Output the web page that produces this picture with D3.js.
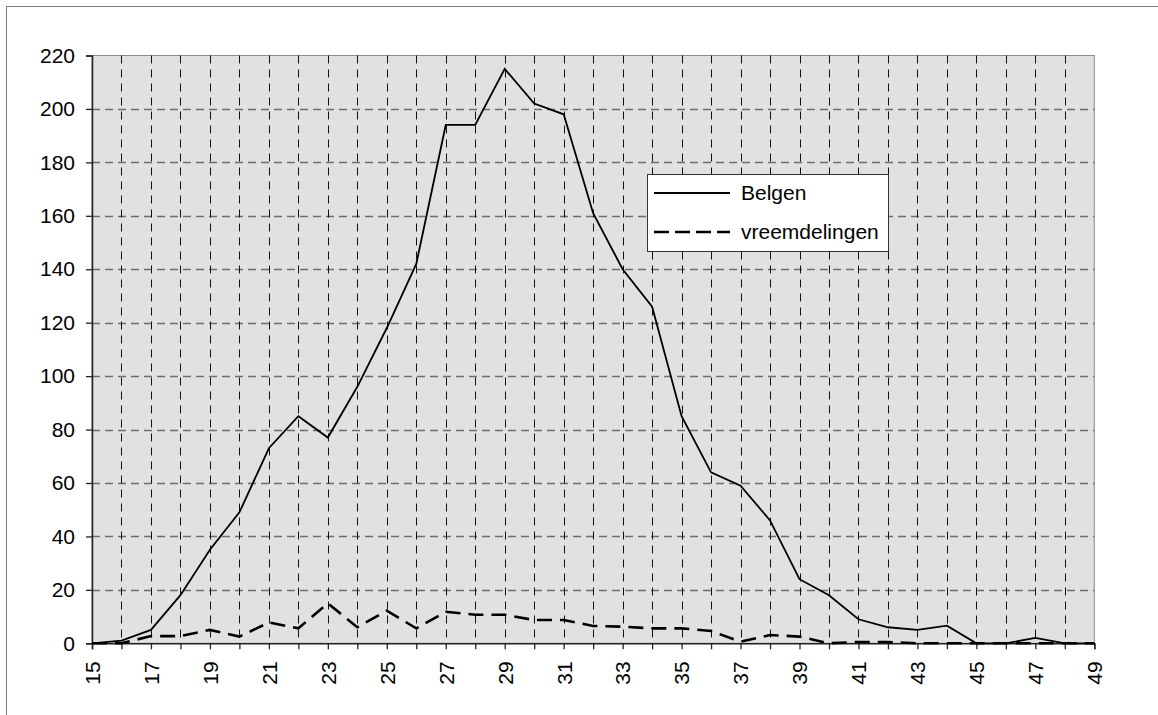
<!DOCTYPE html>
<html>
<head>
<meta charset="utf-8">
<script src="https://cdn.jsdelivr.net/npm/d3@7"></script>
<style>
  html, body { margin: 0; padding: 0; background: #fff; }
  svg { display: block; font-family: "Liberation Sans", Arial, sans-serif; }
</style>
</head>
<body>
<div id="chart"></div>
<script>
const ages = [15, 16, 17, 18, 19, 20, 21, 22, 23, 24, 25, 26, 27, 28, 29, 30, 31, 32,
  33, 34, 35, 36, 37, 38, 39, 40, 41, 42, 43, 44, 45, 46, 47, 48, 49];
const belgen = [0, 1, 5, 18, 35, 49, 73, 85, 77, 96, 118, 142, 194, 194, 215, 202, 198, 161,
  140, 126, 85, 64, 59, 46, 24, 18, 9, 6, 5, 6.6, 0, 0, 2, 0, 0];
const vreemdelingen = [0, 0, 2.7, 2.7, 5, 2.5, 7.8, 5.6, 15, 6, 12.2, 5.6, 11.8, 10.7, 10.7, 8.7, 8.7, 6.5,
  6.2, 5.6, 5.6, 4.6, 0.6, 3.1, 2.5, 0, 0.5, 0.5, 0, 0, 0, 0, 0, 0, 0];
const yTicks = [0, 20, 40, 60, 80, 100, 120, 140, 160, 180, 200, 220];
const seriesNames = ["Belgen", "vreemdelingen"];

const W = 1158, H = 715;
const plot = { left: 92, right: 1094.3, top: 55.5, bottom: 643.3 };
const fontSize = 21;

const svg = d3.select("#chart").append("svg").attr("width", W).attr("height", H);

// outer chart frame (only top/left edges fall inside the window)
svg.append("rect")
  .attr("x", 6.5).attr("y", 6.5).attr("width", W + 20).attr("height", H + 20)
  .attr("fill", "none").attr("stroke", "#7f7f7f").attr("stroke-width", 1);

const x = d3.scalePoint().domain(ages).range([plot.left, plot.right]);
const y = d3.scaleLinear().domain([0, 220]).range([plot.bottom, plot.top]);

// plot area
svg.append("rect")
  .attr("x", plot.left).attr("y", plot.top)
  .attr("width", plot.right - plot.left).attr("height", plot.bottom - plot.top)
  .attr("fill", "#e1e1e1").attr("stroke", "#8c8c8c").attr("stroke-width", 1);

// horizontal gridlines
svg.append("g").selectAll("line").data(yTicks.filter((d) => d > 0 && d < 220)).enter().append("line")
  .attr("x1", plot.left).attr("x2", plot.right)
  .attr("y1", (d) => Math.round(y(d)) + 0.5).attr("y2", (d) => Math.round(y(d)) + 0.5)
  .attr("stroke", "#6e6e6e").attr("stroke-width", 1.3).attr("stroke-dasharray", "8,5");

// vertical gridlines
svg.append("g").selectAll("line").data(ages.slice(1, -1)).enter().append("line")
  .attr("x1", (d) => Math.round(x(d)) + 0.5).attr("x2", (d) => Math.round(x(d)) + 0.5)
  .attr("y1", plot.top).attr("y2", plot.bottom)
  .attr("stroke", "#111").attr("stroke-width", 1).attr("stroke-dasharray", "8,6");

// y axis
const yAxis = svg.append("g").attr("transform", `translate(${plot.left},0)`)
  .call(d3.axisLeft(y).tickValues(yTicks).tickSize(6).tickPadding(11));
yAxis.select(".domain").attr("stroke", "#222").attr("stroke-width", 1.5);
yAxis.selectAll(".tick line").attr("stroke", "#222").attr("stroke-width", 1.3);
yAxis.selectAll("text").attr("font-size", fontSize).attr("fill", "#000")
  .attr("font-family", "Liberation Sans, Arial, sans-serif");

// x axis
const xAxis = svg.append("g").attr("transform", `translate(0,${plot.bottom})`)
  .call(d3.axisBottom(x).tickSize(6).tickPadding(0)
    .tickFormat((d, i) => (i % 2 === 0 ? d : "")));
xAxis.select(".domain").attr("stroke", "#222").attr("stroke-width", 1.5);
xAxis.selectAll(".tick line").attr("stroke", "#222").attr("stroke-width", 1.3);
xAxis.selectAll("text")
  .attr("font-size", fontSize).attr("fill", "#000")
  .attr("font-family", "Liberation Sans, Arial, sans-serif")
  .attr("transform", "translate(0,18) rotate(-90)")
  .attr("text-anchor", "end").attr("dy", "0.35em").attr("y", 0).attr("x", 0);

// series lines
const line = d3.line().x((d, i) => x(ages[i])).y((d) => y(d));

svg.append("path").datum(belgen)
  .attr("d", line).attr("fill", "none")
  .attr("stroke", "#000").attr("stroke-width", 1.8);

svg.append("path").datum(vreemdelingen)
  .attr("d", line).attr("fill", "none")
  .attr("stroke", "#000").attr("stroke-width", 2.6).attr("stroke-dasharray", "15,8");

// legend
const legend = svg.append("g").attr("transform", "translate(647,174)");
legend.append("rect")
  .attr("x", 0.5).attr("y", 0.5).attr("width", 241).attr("height", 77)
  .attr("fill", "#fff").attr("stroke", "#333").attr("stroke-width", 1);

const item = legend.selectAll("g.item").data(seriesNames).enter().append("g")
  .attr("class", "item")
  .attr("transform", (d, i) => `translate(0,${19 + i * 39})`);
item.append("line")
  .attr("x1", 7).attr("x2", 83).attr("y1", 0).attr("y2", 0)
  .attr("stroke", "#000")
  .attr("stroke-width", (d, i) => (i === 0 ? 1.8 : 2.4))
  .attr("stroke-dasharray", (d, i) => (i === 0 ? null : "15,6"));
item.append("text")
  .attr("x", 94).attr("y", 0).attr("dy", "0.35em")
  .attr("font-size", fontSize).attr("fill", "#000")
  .text((d) => d);
</script>
</body>
</html>
